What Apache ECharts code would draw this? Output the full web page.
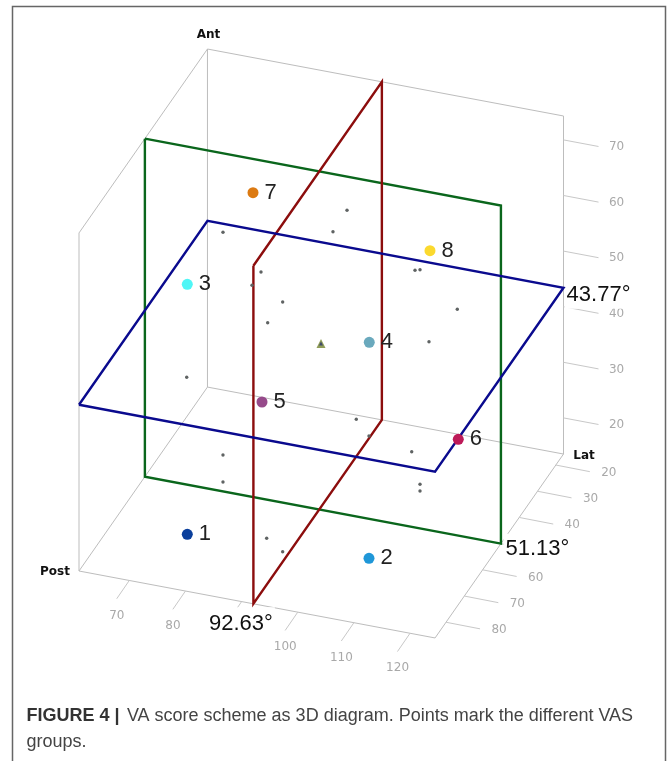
<!DOCTYPE html>
<html><head><meta charset="utf-8">
<script src="https://cdn.jsdelivr.net/npm/echarts@6/dist/echarts.min.js"></script>
<style>html,body{margin:0;padding:0;background:#fff}#c{width:668px;height:761px}</style>
</head><body><div id="c"></div>
<script>
// ---- axis ticks
const xTicks = [70, 80, 90, 100, 110, 120];
const latTicks = [20, 30, 40, 50, 60, 70, 80];
const zTicks = [20, 30, 40, 50, 60, 70];
// ---- axis extents
const xRange = [61.04, 124.45];
const latRange = [15.8, 86];
const zRange = [13.5, 74.3];
// ---- eight VAS groups
const groupNames = ['1', '2', '3', '4', '5', '6', '7', '8'];
const groupX = [74.46, 106.82, 74.46, 106.87, 74.40, 109.36, 72.80, 104.32];
const groupLat = [68, 68, 68, 68, 27, 27, 27, 27];
const groupZ = [14.17, 16.0, 59.13, 54.86, 18.63, 18.56, 55.97, 51.53];
const groupColors = ['#0a3f9c', '#1f97d8', '#4ff6f6', '#6aa9bd', '#964a8a', '#bd1a58', '#dc7a12', '#fbd92e'];
// ---- small individual points
const dotX = [74.95, 94.54, 97.04, 81.72, 80.12, 85.58, 82.91, 109.15, 110.04, 116.68, 111.64, 68.49, 74.95, 74.95, 89.25, 92.10, 98.69, 100.95, 108.56, 110.04, 110.04];
const dotLat = [50, 50, 50, 50, 50, 50, 50, 50, 50, 50, 50, 50, 50, 50, 70, 70, 50, 50, 50, 50, 50];
const dotZ = [60.1, 63.92, 68.25, 54.24, 51.55, 49.58, 45.35, 59.76, 60.03, 54.17, 47.39, 32.79, 20.04, 15.19, 17.2, 15.33, 30.97, 28.4, 27.02, 21.44, 20.23];
// ---- centre of the scheme
const centre = [92.41, 50, 43.41];
// ---- cutting planes: drawn position and printed value
const planeX = 92.1, planeLat = 50.0, planeZ = 43.4;
const planeLabels = ['92.63°', '51.13°', '43.77°'];

// oblique scale: data -> page coordinates
function P(x, lat, z) {
  const a = x - xRange[0], b = latRange[1] - lat, c = z - zRange[0];
  return [79 + a * 5.615 + b * 1.83, 571 + a * 1.056 - b * 2.62 - c * 5.56];
}
const [x0, x1] = xRange, [l0, l1] = latRange, [z0, z1] = zRange;
const plus = (p, dx, dy) => [p[0] + dx, p[1] + dy];

function line(pts, color, width, z) {
  return { type: 'line', data: pts, symbol: 'none', silent: true, clip: false, animation: false, z: z,
    lineStyle: { color: color, width: width, join: 'miter', opacity: 1 } };
}
function labels(items, font, z) {
  return { type: 'scatter', silent: true, animation: false, z: z, symbolSize: 1,
    itemStyle: { color: 'transparent', opacity: 1 },
    data: items.map(it => ({ value: it.p, label: Object.assign({ show: true, formatter: it.t, position: 'inside', offset: it.o || [0, 0] }, font, it.l || {}) })) };
}

const series = [];
const boxColor = '#bdbdbd';
[
  [P(x0,l0,z0), P(x0,l0,z1)], [P(x1,l0,z0), P(x1,l0,z1)], [P(x0,l1,z0), P(x0,l1,z1)],
  [P(x0,l0,z1), P(x1,l0,z1)], [P(x0,l0,z1), P(x0,l1,z1)],
  [P(x0,l1,z0), P(x1,l1,z0), P(x1,l0,z0), P(x0,l0,z0), P(x0,l1,z0)]
].forEach(s => series.push(line(s, boxColor, 1, 1)));

// tick marks
const tickColor = '#c8c8c8';
xTicks.forEach(v => { const s = P(v, l1, z0); series.push(line([s, plus(s, -12.6, 18.3)], tickColor, 1, 1)); });
latTicks.forEach(v => { const s = P(x1, v, z0); series.push(line([s, plus(s, 34, 6.6)], tickColor, 1, 1)); });
zTicks.forEach(v => { const s = P(x1, l0, v); series.push(line([s, plus(s, 35, 6.6)], tickColor, 1, 1)); });

// tick labels
const tickFont = { fontFamily: 'DejaVu Sans', fontSize: 12, color: '#a9a9a9' };
series.push(labels(
  xTicks.map(v => ({ p: plus(P(v, l1, z0), -12.5, 35), t: String(v) }))
    .concat(latTicks.map(v => ({ p: plus(P(x1, v, z0), 53, 7.7), t: String(v) })))
    .concat(zTicks.map(v => ({ p: plus(P(x1, l0, v), 53, 7.2), t: String(v) }))),
  tickFont, 2));

// axis names
const nameFont = { fontFamily: 'DejaVu Sans', fontSize: 12, fontWeight: 'bold', color: '#111' };
series.push(labels([
  { p: plus(P(x0, l0, z1), 1, -14), t: 'Ant' },
  { p: plus(P(x0, l1, z0), -24, 1), t: 'Post' },
  { p: plus(P(x1, l0, z0), 20.5, 2), t: 'Lat' }
], nameFont, 2));

// plane annotations with white backing
const annFont = { fontFamily: 'Liberation Sans', fontSize: 22, color: '#111', backgroundColor: '#fff', lineHeight: 22 };
series.push(labels([
  { p: P(planeX, l1, z0), t: planeLabels[0], o: [-12.5, 20], l: { padding: [0, 2, 11, 2] } },
  { p: P(x1, planeLat, z0), t: planeLabels[1], o: [36.5, 5], l: { padding: [0, 2, 8, 2] } },
  { p: P(x1, l0, planeZ), t: planeLabels[2], o: [35, 7], l: { padding: [0, 2, 6, 2] } }
], annFont, 3));

// cutting planes
series.push(line([P(x0,planeLat,z1), P(x1,planeLat,z1), P(x1,planeLat,z0), P(x0,planeLat,z0), P(x0,planeLat,z1)], '#0a661c', 2.4, 4));
series.push(line([P(planeX,l1,z1), P(planeX,l0,z1), P(planeX,l0,z0), P(planeX,l1,z0), P(planeX,l1,z1)], '#8c0d0d', 2.4, 4));
series.push(line([P(x0,l1,planeZ), P(x1,l1,planeZ), P(x1,l0,planeZ), P(x0,l0,planeZ), P(x0,l1,planeZ)], '#0a0a8e', 2.4, 4));

// small points
series.push({ type: 'scatter', silent: true, animation: false, z: 5, symbolSize: 3.4,
  itemStyle: { color: '#5f6363', opacity: 1 },
  data: dotX.map((x, i) => P(x, dotLat[i], dotZ[i])) });

// centre marker
series.push({ type: 'scatter', silent: true, animation: false, z: 5, symbol: 'triangle', symbolSize: 9,
  itemStyle: { color: '#8f9c58', opacity: 1 }, data: [P(centre[0], centre[1], centre[2])] });
series.push({ type: 'scatter', silent: true, animation: false, z: 6, symbol: 'triangle', symbolSize: 4,
  itemStyle: { color: '#3f4a6a', opacity: 1 }, data: [P(centre[0], centre[1], centre[2])] });

// group points
series.push({ type: 'scatter', silent: true, animation: false, z: 6, symbolSize: 11,
  data: groupNames.map((n, i) => ({ value: P(groupX[i], groupLat[i], groupZ[i]), itemStyle: { color: groupColors[i], opacity: 1 },
    label: { show: true, formatter: n, position: 'right', distance: 6, fontFamily: 'Liberation Sans', fontSize: 22, color: '#222' } })) });

const chart = echarts.init(document.getElementById('c'), null, { renderer: 'canvas' });
chart.setOption({
  animation: false,
  backgroundColor: '#fff',
  grid: { left: 0, right: 0, top: 0, bottom: 0 },
  xAxis: { type: 'value', min: 0, max: 668, show: false },
  yAxis: { type: 'value', min: 0, max: 761, inverse: true, show: false },
  series: series,
  graphic: [
    { type: 'polyline', silent: true, shape: { points: [[12.5, 761], [12.5, 6.5], [665.5, 6.5], [665.5, 761]] },
      style: { stroke: '#666', lineWidth: 1.5, fill: null } },
    { type: 'text', silent: true, x: 26.5, y: 703, style: {
        text: '{b|FIGURE 4 |} {r|VA score scheme as 3D diagram. Points mark the different VAS}\n{q|groups.}',
        rich: {
          b: { fontFamily: 'Liberation Sans', fontSize: 18, fontWeight: 'bold', fill: '#333', lineHeight: 26 },
          r: { fontFamily: 'Liberation Sans', fontSize: 18, fill: '#444', lineHeight: 26, padding: [0, 0, 0, 4] },
          q: { fontFamily: 'Liberation Sans', fontSize: 18, fill: '#444', lineHeight: 26 }
        } } }
  ]
});
</script></body></html>
